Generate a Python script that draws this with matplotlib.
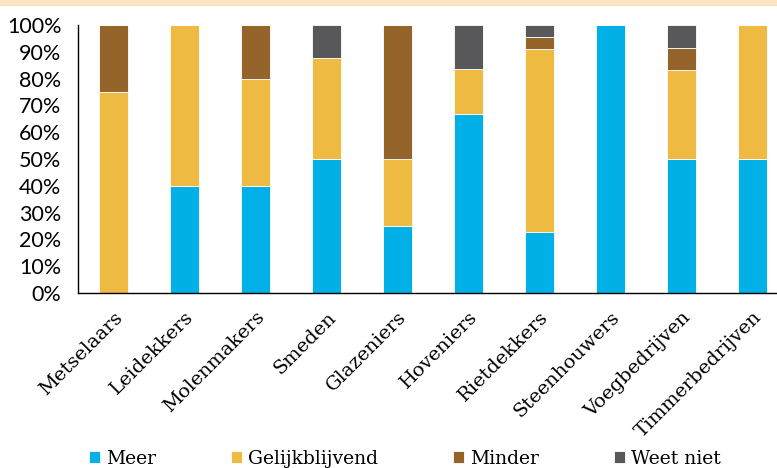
import matplotlib.pyplot as plt
import numpy as np

categories = ['Metselaars', 'Leidekkers', 'Molenmakers', 'Smeden', 'Glazeniers',
              'Hoveniers', 'Rietdekkers', 'Steenhouwers', 'Voegbedrijven', 'Timmerbedrijven']
meer = [0, 40, 40, 50, 25, 66.7, 22.7, 100, 50, 50]
gelijk = [75, 60, 40, 37.5, 25, 16.7, 68.2, 0, 33.3, 50]
minder = [25, 0, 20, 0, 50, 0, 4.5, 0, 8.3, 0]
weet_niet = [0, 0, 0, 12.5, 0, 16.6, 4.6, 0, 8.4, 0]
series = ['Meer', 'Gelijkblijvend', 'Minder', 'Weet niet']
colors = ['#00B0E6', '#EFBA42', '#94642A', '#58585A']
yticks = [0, 10, 20, 30, 40, 50, 60, 70, 80, 90, 100]

fig = plt.figure(figsize=(7.77, 4.68), dpi=100)
# light band along the top
fig.patches.append(plt.Rectangle((0, 0.989), 1, 0.011, transform=fig.transFigure,
                                 color='#FBE5C0', zorder=0))
ax = fig.add_axes([0.1004, 0.374, 0.9138, 0.5726])

x = np.arange(len(categories))
bottom = np.zeros(len(categories))
handles = []
for name, vals, c in zip(series, [meer, gelijk, minder, weet_niet], colors):
    vals = np.array(vals, dtype=float)
    b = ax.bar(x, vals, 0.4, bottom=bottom, color=c, edgecolor='white', linewidth=0.6, label=name)
    handles.append(b)
    bottom += vals

ax.set_xlim(-0.5, 9.5)
ax.set_ylim(0, 100)
ax.set_yticks(yticks)
ax.set_yticklabels(['{}%'.format(t) for t in yticks], fontfamily='Lato', fontsize=15.5)
ax.set_xticks(x)
ax.set_xticklabels(categories, rotation=45, ha='right', rotation_mode='anchor',
                   fontfamily='DejaVu Serif', fontsize=14)
ax.tick_params(axis='y', length=0, pad=12)
ax.tick_params(axis='x', length=0, pad=11)
for s in ['top', 'right']:
    ax.spines[s].set_visible(False)
ax.spines['left'].set_linewidth(1)
ax.spines['bottom'].set_linewidth(1)

fig.legend(handles=handles, loc='lower left', bbox_to_anchor=(0.093, -0.035), ncol=4,
           frameon=False, prop={'family': 'DejaVu Serif', 'size': 13.5},
           handlelength=0.6, handleheight=0.6, handletextpad=0.3, columnspacing=4.0)

fig.savefig('out.png', dpi=100)
